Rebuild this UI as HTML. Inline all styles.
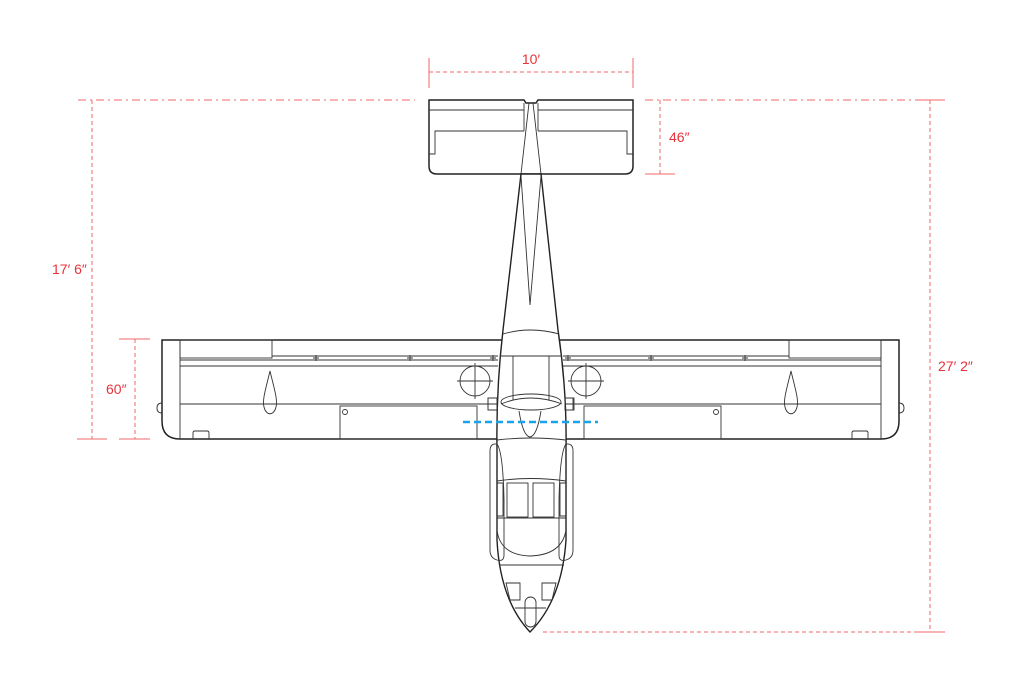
<!DOCTYPE html>
<html><head><meta charset="utf-8"><style>
html,body{margin:0;padding:0;background:#fff;}
svg{display:block;}
text{font-family:"Liberation Sans",sans-serif;font-size:14px;fill:#e8323c;}
</style></head><body>
<svg width="1024" height="687" viewBox="0 0 1024 687" xmlns="http://www.w3.org/2000/svg">
<defs>
<g id="wing" fill="none" stroke="#333" stroke-width="0.9">
  <rect x="180" y="340" width="92" height="18"/>
  <line x1="272" y1="356" x2="498" y2="356"/>
  <line x1="180" y1="360" x2="498" y2="360"/>
  <line x1="180" y1="366" x2="498" y2="366"/>
  <line x1="180" y1="404" x2="498" y2="404"/>
  <line x1="180" y1="340" x2="180" y2="439"/>
  <rect x="340" y="406" width="137" height="33"/>
  <circle cx="345" cy="412" r="2.5"/>
  <path d="M270 371 C266 388 262 400 264 407 C266 416 274 416 276 407 C278 400 274 388 270 371 Z"/>
  <circle cx="475" cy="381" r="15"/>
  <line x1="457" y1="381" x2="493" y2="381"/><line x1="475" y1="363" x2="475" y2="399"/>
  <path d="M193 439 V433 Q193 431 195 431 H207 Q209 431 209 433 V439"/>
  <path d="M162 403 Q157 403 157 408 Q157 413 162 413"/>
  <path d="M313 358h6M316 355v6M407 358h6M410 355v6M490 358h6M493 355v6"/>
  <rect x="488" y="398" width="9" height="12"/>
</g>
</defs>
<path d="M162 340 H899 V421 Q899 439 881 439 H180 Q162 439 162 421 Z" fill="#fff" stroke="#222" stroke-width="1.5"/>
<use href="#wing"/>
<use href="#wing" transform="translate(1061,0) scale(-1,1)"/>
<!-- tail -->
<path d="M429 100 H524 L526 103 H536 L538 100 H633 V166 Q633 174 625 174 H437 Q429 174 429 166 Z" fill="#fff" stroke="#222" stroke-width="1.5"/>
<g fill="none" stroke="#333" stroke-width="0.9">
<line x1="429" y1="110" x2="524" y2="110"/><line x1="538" y1="110" x2="633" y2="110"/>
<path d="M429 154 H435 V131 H524"/><path d="M633 154 H627 V131 H538"/>
<line x1="524" y1="103" x2="524" y2="131"/><line x1="538" y1="103" x2="538" y2="131"/>
<path d="M529 103 L521 174 M533 103 L541 174"/>
<path d="M521 176 L530 305 L541 176"/>
</g>
<!-- fuselage -->
<path d="M521 174 L541 174 L558 330 Q567 390 566 450 L566 540 Q562 600 530 632 Q500 600 497 540 L497 450 Q496 390 503 330 Z" fill="#fff" stroke="#222" stroke-width="1.4"/>
<g fill="none" stroke="#333" stroke-width="0.9">
<path d="M521 176 L530 305 L541 176"/>
<path d="M503 334 Q530 326 559 334"/>
<path d="M500 356 H562"/>
<path d="M513 356 V400 M549 356 V400"/>
<path d="M501 404 Q530 392 562 404"/>
<ellipse cx="531" cy="402" rx="30" ry="8"/>
<path d="M519 411 Q523 436 530 437 Q537 436 541 411"/>
<path d="M497 440 Q530 436 566 440"/>
<path d="M490 451 Q490 443 497 444 Q503 452 504 500 L504 555 Q504 562 497 560 Q490 558 490 550 Z"/>
<path d="M573 451 Q573 443 566 444 Q560 452 559 500 L559 555 Q559 562 566 560 Q573 558 573 550 Z"/>
<path d="M497 481 Q530 476 566 481"/>
<path d="M497 518 H566"/>
<rect x="507" y="483" width="21" height="34"/><rect x="533" y="483" width="21" height="34"/>
<path d="M497 483 H503 V516 H497 M566 483 H560 V516 H566"/>
<path d="M497 530 Q500 555 530 556 Q562 555 566 530"/>
<path d="M499 565 H564"/>
<path d="M506 583 H520 V600 H510 Z M556 583 H542 V600 H552 Z"/>
<rect x="525" y="597" width="11" height="30" rx="5.5"/>
<path d="M515 608 H546"/>
<rect x="488" y="398" width="9" height="12"/><rect x="565" y="398" width="9" height="12"/>
</g>
<line x1="463" y1="422" x2="598" y2="422" stroke="#1aa3e8" stroke-width="2.5" stroke-dasharray="7,4"/>
<g stroke="#f06a6a" stroke-width="1" fill="none">
<line x1="429" y1="58" x2="429" y2="88"/><line x1="633" y1="58" x2="633" y2="88"/>
<line x1="429" y1="72" x2="633" y2="72" stroke-dasharray="4,3"/>
<line x1="645" y1="100" x2="945" y2="100" stroke-dasharray="8,4,2,4"/>
<line x1="78" y1="100" x2="415" y2="100" stroke-dasharray="8,4,2,4"/>
<line x1="660" y1="100" x2="660" y2="174" stroke-dasharray="4,3"/>
<line x1="645" y1="174" x2="675" y2="174"/>
<line x1="92" y1="100" x2="92" y2="439" stroke-dasharray="4,3"/>
<line x1="77" y1="439" x2="107" y2="439"/>
<line x1="119" y1="339" x2="150" y2="339"/><line x1="119" y1="439" x2="150" y2="439"/>
<line x1="135" y1="339" x2="135" y2="439" stroke-dasharray="4,3"/>
<line x1="930" y1="100" x2="930" y2="632" stroke-dasharray="4,3"/>
<line x1="915" y1="100" x2="945" y2="100"/><line x1="915" y1="632" x2="945" y2="632"/>
<line x1="543" y1="632" x2="930" y2="632" stroke-dasharray="4,3"/>
</g>
<text x="531" y="64" text-anchor="middle">10′</text>
<text x="669" y="142">46″</text>
<text x="52" y="274">17′ 6″</text>
<text x="106" y="394">60″</text>
<text x="938" y="371">27′ 2″</text>
</svg>
</body></html>
